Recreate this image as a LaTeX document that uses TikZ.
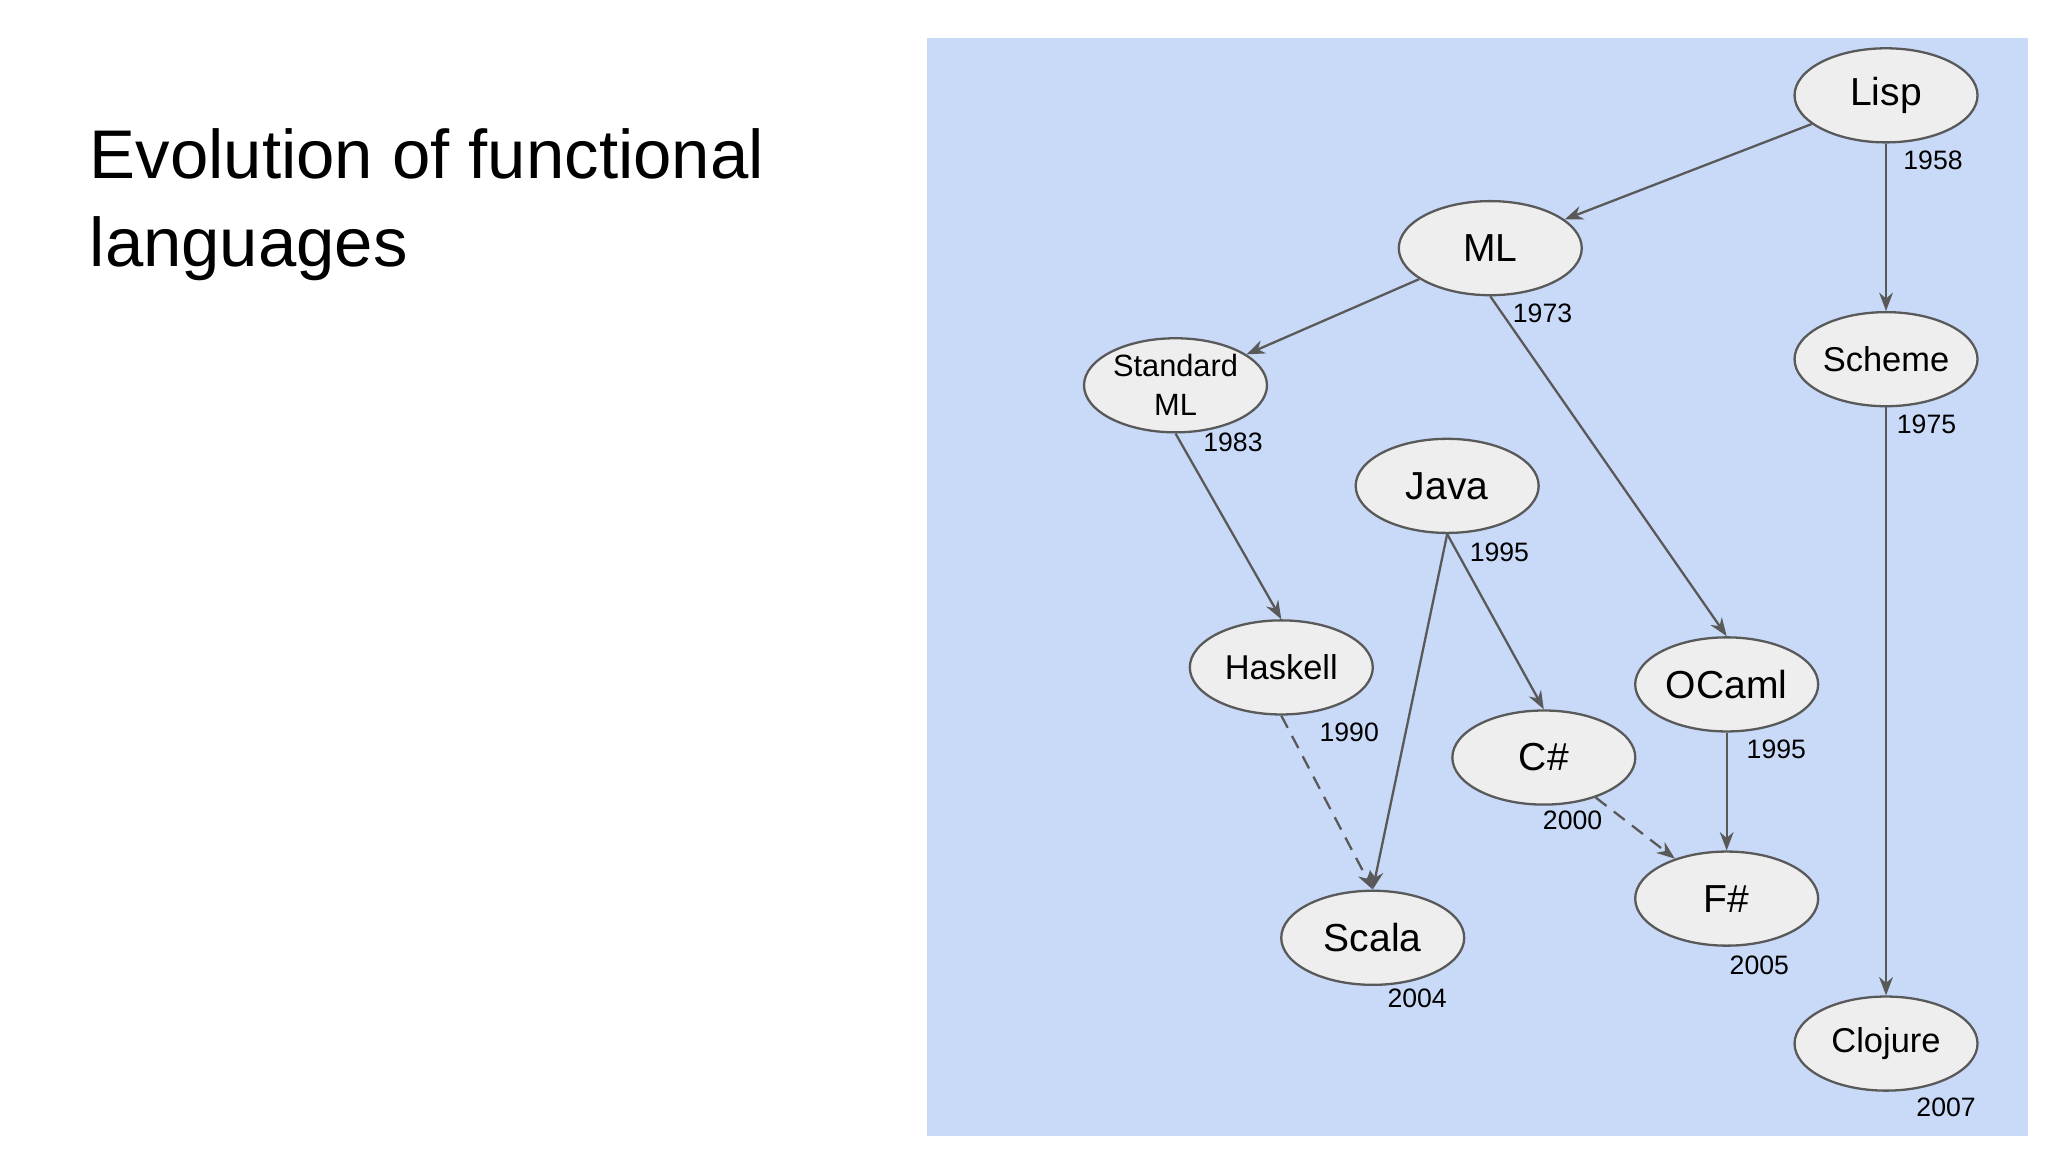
\documentclass[tikz,border=0pt]{standalone}
\usepackage{fontspec}
\setmainfont{Liberation Sans}
\usetikzlibrary{shapes.geometric,arrows.meta}
\definecolor{bg}{HTML}{C9DAF8}
\definecolor{nf}{HTML}{EEEEEE}
\definecolor{ln}{HTML}{595959}
\begin{document}
\begin{tikzpicture}[x=0.01cm,y=-0.01cm,
  lang/.style={ellipse,draw=ln,fill=nf,line width=0.5pt,minimum width=1.4cm,minimum height=0.72cm,inner sep=0pt,font=\fontsize{8.5}{9}\selectfont,align=center},
  yr/.style={font=\fontsize{5.8}{7}\selectfont,inner sep=0pt},
  edge/.style={draw=ln,line width=0.5pt,-{Stealth[length=4pt,width=3pt]}},
  dashedge/.style={edge,dash pattern=on 3pt off 2pt}]
\useasboundingbox (0,0) rectangle (1568,882);
\fill[white] (0,0) rectangle (1568,882);
\fill[bg] (710,29) rectangle (1553,870);
\node[anchor=north west,align=left,font=\fontsize{15}{19}\selectfont,inner sep=0pt] (title) at (68,98) {Evolution of functional\\languages};
\node[lang] (lisp) at (1444,73) {Lisp};
\node[lang] (ml) at (1141,190) {ML};
\node[lang,font=\fontsize{6.7}{8.5}\selectfont] (sml) at (900,295) {Standard\\ML};
\node[lang,font=\fontsize{7.5}{9}\selectfont] (scheme) at (1444,275) {Scheme};
\node[lang] (java) at (1108,372) {Java};
\node[lang,font=\fontsize{7.5}{9}\selectfont] (haskell) at (981,511) {Haskell};
\node[lang] (ocaml) at (1322,524) {OCaml};
\node[lang] (cs) at (1182,580) {C\#};
\node[lang] (fs) at (1322,688) {F\#};
\node[lang] (scala) at (1051,718) {Scala};
\node[lang,font=\fontsize{7.5}{9}\selectfont] (clojure) at (1444,799) {Clojure};
\node[yr] (y1) at (1480,123) {1958};
\node[yr] (y2) at (1181,240) {1973};
\node[yr] (y3) at (944,339) {1983};
\node[yr] (y4) at (1475,325) {1975};
\node[yr] (y5) at (1148,423) {1995};
\node[yr] (y6) at (1033,561) {1990};
\node[yr] (y7) at (1360,574) {1995};
\node[yr] (y8) at (1204,628) {2000};
\node[yr] (y9) at (1347,739) {2005};
\node[yr] (y10) at (1085,764) {2004};
\node[yr] (y11) at (1490,848) {2007};
\draw[edge] (lisp) -- (ml);
\draw[edge] (lisp.south) -- (scheme.north);
\draw[edge] (ml) -- (sml);
\draw[edge] (ml.south) -- (ocaml.north);
\draw[edge] (sml.south) -- (haskell.north);
\draw[edge] (java.south) -- (scala.north);
\draw[edge] (java.south) -- (cs.north);
\draw[dashedge] (haskell.south) -- (scala.north);
\draw[dashedge] (cs) -- (fs);
\draw[edge] (ocaml.south) -- (fs.north);
\draw[edge] (scheme.south) -- (clojure.north);
\end{tikzpicture}
\end{document}
